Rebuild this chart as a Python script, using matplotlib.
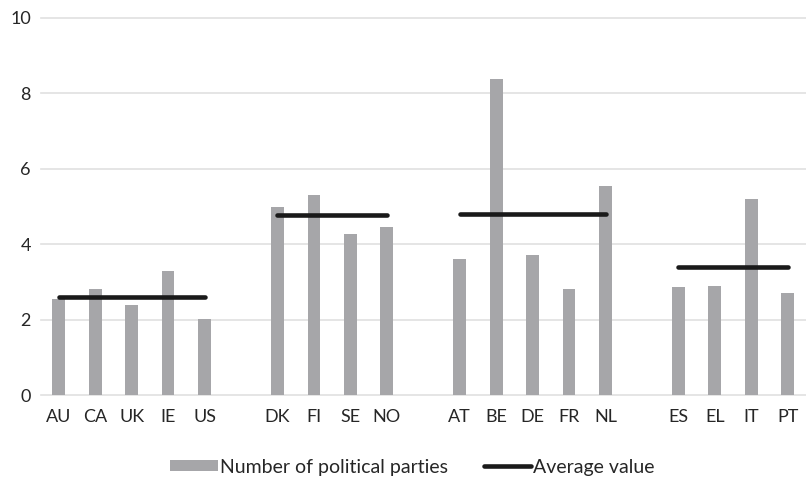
import matplotlib
matplotlib.use("Agg")
import matplotlib.pyplot as plt
import numpy as np
from matplotlib.lines import Line2D
from matplotlib.patches import Patch

# Data (blank strings = gaps between country groups)
categories = ["AU", "CA", "UK", "IE", "US", "",
              "DK", "FI", "SE", "NO", "",
              "AT", "BE", "DE", "FR", "NL", "",
              "ES", "EL", "IT", "PT"]
parties = [2.55, 2.82, 2.39, 3.29, 2.02, None,
           4.99, 5.30, 4.27, 4.45, None,
           3.60, 8.38, 3.71, 2.81, 5.54, None,
           2.86, 2.89, 5.19, 2.70]
group_average = [2.60, 4.76, 4.81, 3.39]
group_sizes = [5, 4, 5, 4]
y_ticks = [0, 2, 4, 6, 8, 10]

bar_color = "#A6A6A9"
line_color = "#1A1A1A"
text_color = "#262626"
grid_color = "#E0E0E0"

plt.rcParams['font.family'] = ['Lato', 'DejaVu Sans']
FS = 13

fig = plt.figure(figsize=(8.06, 4.80), dpi=100)
ax = fig.add_axes([40.5 / 806, 1 - 395 / 480, 1 - 40.5 / 806, (395 - 17.7) / 480])

x = np.arange(len(categories))
bx = [xi for xi, v in zip(x, parties) if v is not None]
bv = [v for v in parties if v is not None]
ax.bar(bx, bv, width=0.35, color=bar_color, zorder=2)

start = 0
for i, (n, avg) in enumerate(zip(group_sizes, group_average)):
    xs = [start, start + n - 1]
    ax.plot(xs, [avg, avg], color=line_color, lw=3.3, solid_capstyle="round", zorder=3)
    start += n + 1

ax.set_xlim(-0.5, len(categories) - 0.5)
ax.set_ylim(0, 10)
ax.set_yticks(y_ticks)
ax.set_xticks(x)
ax.set_xticklabels(categories)
ax.tick_params(axis="both", length=0, labelsize=FS, colors=text_color)
ax.tick_params(axis="y", pad=7)
ax.tick_params(axis="x", pad=10)
ax.yaxis.grid(True, color=grid_color, lw=1.2, zorder=0)
ax.set_axisbelow(True)
for s in ax.spines.values():
    s.set_visible(False)
for l in ax.get_ygridlines():
    l.set_clip_on(False)

handles = [Patch(facecolor=bar_color, edgecolor="none"),
           Line2D([0], [0], color=line_color, lw=3.3, solid_capstyle="round")]
labels = ["Number of political parties", "Average value"]
fig.legend(handles, labels, loc="center", bbox_to_anchor=(412.5 / 806, 1 - 467 / 480),
           ncol=2, frameon=False, fontsize=14, handlelength=2.45, handleheight=0.55,
           handletextpad=0.1, columnspacing=1.85, labelcolor=text_color)

fig.savefig("out.png", dpi=100)
